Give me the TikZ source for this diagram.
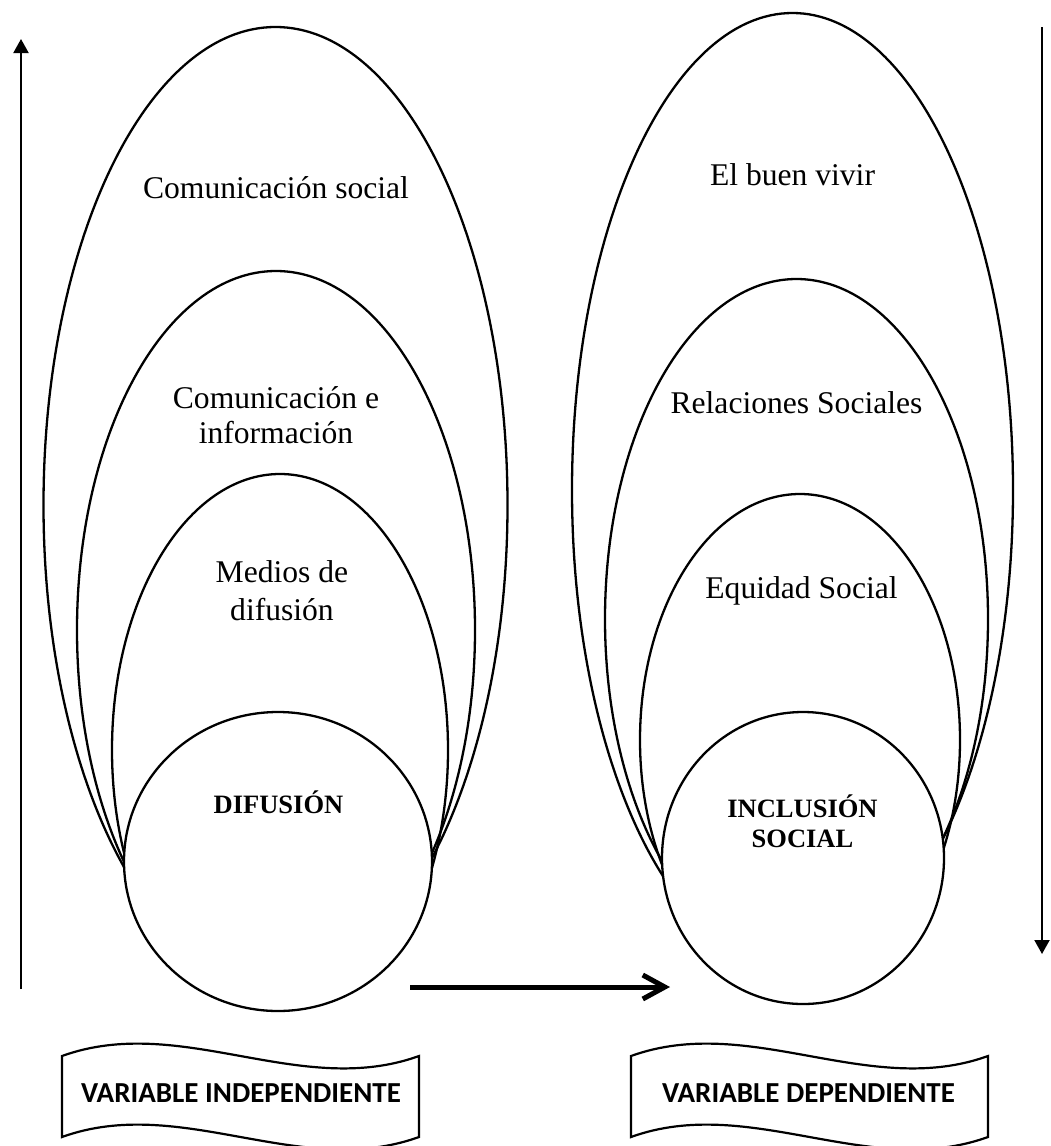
\documentclass[tikz,border=0pt]{standalone}
\usepackage{fontspec}
\setmainfont{Liberation Serif}
\newfontfamily\calib{Carlito}
\usetikzlibrary{arrows.meta}
\begin{document}
\begin{tikzpicture}[x=0.5pt,y=-0.5pt,
  ring/.style={line width=1.15pt},
  disk/.style={line width=1.15pt, fill=white},
  lbl/.style={font=\fontsize{15.8}{17.5}\selectfont, anchor=base, inner sep=0pt, align=center},
  lblwide/.style={font=\fontsize{15.8}{19}\selectfont, anchor=base, inner sep=0pt, align=center},
  corelbl/.style={font=\bfseries\fontsize{13.25}{15}\selectfont, anchor=base, inner sep=0pt, align=center},
  varlbl/.style={font=\calib\bfseries\fontsize{14.5}{17}\selectfont, anchor=base, inner sep=0pt},
  bannerline/.style={line width=1.1pt},
  vline/.style={line width=1pt, -{Triangle[length=7pt,width=7.5pt]}},
  hline/.style={line width=2.5pt, -{Straight Barb[length=11pt,width=12pt]}}
]
\useasboundingbox (0,0) rectangle (1050,1146);

% ---------- left group ----------
\begin{scope}
  \clip (0,0) rectangle (525,868);
  \draw[ring] (275.5,505) ellipse [x radius=116pt, y radius=239pt];
  \draw[ring] (276,630) ellipse [x radius=99.5pt, y radius=179.5pt];
  \draw[ring] (280,750) ellipse [x radius=84pt, y radius=138pt];
\end{scope}
\draw[disk] (278,861.5) ellipse [x radius=77pt, y radius=74.75pt];

\node[lbl] (cs) at (276,198) {Comunicación social};
\node[lbl] (ci) at (276,443) {Comunicación e\\información};
\node[lblwide] (md) at (282,620) {Medios de\\difusión};
\node[corelbl] (dif) at (278.5,813) {DIFUSIÓN};

% ---------- right group ----------
\begin{scope}
  \clip (525,0) rectangle (803,885) (803,0) rectangle (1050,860);
  \draw[ring] (792.5,490) ellipse [x radius=110.25pt, y radius=238.5pt];
  \draw[ring] (796.5,619) ellipse [x radius=95.75pt, y radius=170pt];
  \draw[ring] (800,740) ellipse [x radius=80pt, y radius=123pt];
\end{scope}
\draw[disk] (803,858) ellipse [x radius=70.5pt, y radius=73pt];

\node[lbl] (bv) at (792.5,185) {El buen vivir};
\node[lbl] (rs) at (796.5,413) {Relaciones Sociales};
\node[lbl] (es) at (801.5,598) {Equidad Social};
\node[corelbl] (inc) at (802.5,847) {INCLUSIÓN\\SOCIAL};

% ---------- arrows ----------
\coordinate (lb) at (21,989);
\coordinate (lt) at (21,39);
\draw[vline] (lb) -- (lt);
\coordinate (rt) at (1042,27);
\coordinate (rb) at (1042,954);
\draw[vline] (rt) -- (rb);
\coordinate (hs) at (410,987);
\coordinate (he) at (670,987);
\draw[hline] (hs) -- (he);

% ---------- banners ----------
\draw[bannerline] (62,1056) .. controls (181,1013) and (300,1099) .. (419,1056)
  -- (419,1137) .. controls (300,1180) and (181,1094) .. (62,1137) -- cycle;
\node[varlbl] (vi) at (241,1102) {VARIABLE INDEPENDIENTE};
\draw[bannerline] (631,1056) .. controls (750,1013) and (869,1099) .. (988,1056)
  -- (988,1137) .. controls (869,1180) and (750,1094) .. (631,1137) -- cycle;
\node[varlbl] (vd) at (808.5,1102) {VARIABLE DEPENDIENTE};
\end{tikzpicture}
\end{document}
